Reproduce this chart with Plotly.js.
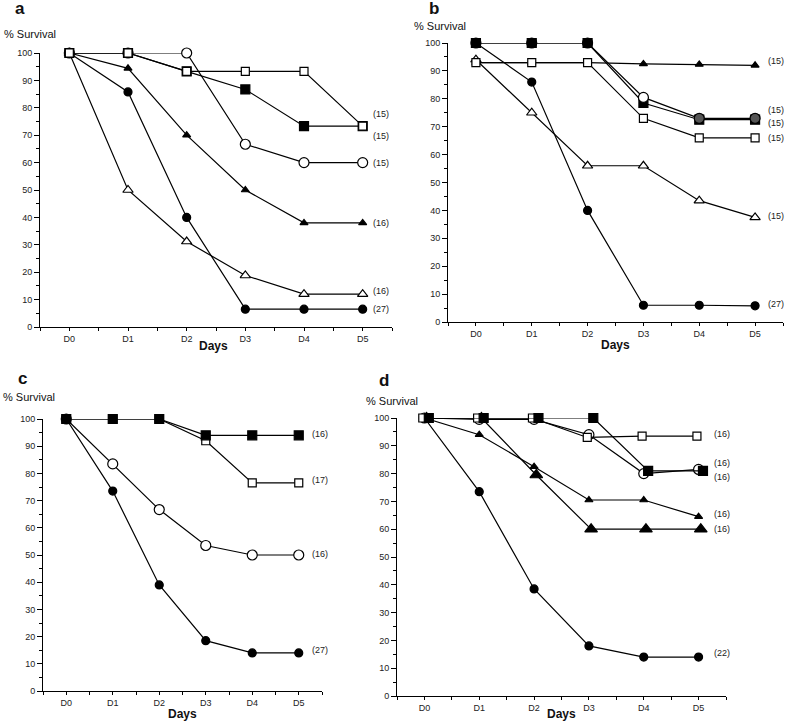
<!DOCTYPE html>
<html><head><meta charset="utf-8">
<script src="https://cdn.plot.ly/plotly-3.0.1.min.js"></script>
<style>html,body{margin:0;padding:0;background:#fff}#chart{width:787px;height:722px}</style>
</head><body><div id="chart"></div>
<script>
// ---------- data ----------
const days = ['D0','D1','D2','D3','D4','D5'];

// Panel a
const aFilledCircle   = [100, 85.8, 40, 6.5, 6.5, 6.5];
const aOpenTriangle   = [100, 50, 31.2, 18.8, 12, 12];
const aFilledTriangle = [100, 94.4, 70, 50, 38, 38];
const aOpenCircle     = [100, 100, 100, 66.7, 60, 60];
const aFilledSquare   = [100, 100, 93.3, 86.7, 73.3, 73.3];
const aOpenSquare     = [100, 100, 93.3, 93.3, 93.3, 73.3];
const aLabels = ['(15)', '(15)', '(15)', '(16)', '(16)', '(27)'];
const aLabelY = [77.6, 69.6, 60, 38, 13, 6.5];

// Panel b
const bFilledTriangle = [93, 93, 93, 92.5, 92.3, 92];
const bOpenSquare     = [93, 93, 93, 73, 66, 66];
const bOpenTriangle   = [94, 75, 56, 56, 43.5, 37.5];
const bOpenCircle     = [100, 100, 100, 80.5, 73, 73];
const bFilledSquare   = [100, 100, 100, 78.5, 72.5, 72.5];
const bFilledCircle   = [100, 86, 40, 6, 6, 5.8];
const bLabels = ['(15)', '(15)', '(15)', '(15)', '(15)', '(27)'];
const bLabelY = [93.5, 76, 71.3, 66, 38, 6.5];

// Panel c
const cFilledSquare = [100, 100, 100, 94, 94, 94];
const cOpenSquare   = [100, 100, 100, 92, 76.5, 76.5];
const cOpenCircle   = [100, 83.5, 66.7, 53.5, 50, 50];
const cFilledCircle = [100, 73.5, 39, 18.5, 14, 14];
const cLabels = ['(16)', '(17)', '(16)', '(27)'];
const cLabelY = [94.5, 77.5, 50.5, 15];

// Panel d
const dOpenSquare     = [100, 100, 100, 93, 93.5, 93.5];
const dFilledSquare   = [100, 100, 100, 100, 81, 81];
const dOpenCircle     = [100, 99.5, 99.5, 94, 80, 81.5];
const dSmallTriangle  = [100, 94, 82.5, 70.5, 70.5, 64.5];
const dLargeTriangle  = [100, 100, 79.5, 60, 60, 60];
const dFilledCircle   = [100, 73.5, 38.5, 18, 14, 14];
const dLabels = ['(16)', '(16)', '(16)', '(16)', '(16)', '(22)'];
const dLabelY = [94.2, 83.8, 78.8, 65.5, 60, 15.5];

// ---------- styles ----------
const W = 787, H = 722;
const FONT = '"Liberation Sans", Arial, sans-serif';
const xs = days.map((d, i) => i);

const ST = {
  fc:  {symbol: 'circle', color: '#000', size: 8},
  oc:  {symbol: 'circle', color: '#fff', size: 10},
  ocB: {symbol: 'circle', color: ['#000', '#000', '#000', '#fff', '#555', '#555'], size: 10},
  fs:  {symbol: 'square', color: '#000', size: 9},
  os:  {symbol: 'square', color: '#fff', size: 8},
  ft:  {symbol: 'triangle-up', color: '#000', size: 7},
  ftL: {symbol: 'triangle-up', color: '#000', size: 11},
  ot:  {symbol: 'triangle-up', color: '#fff', size: 9}
};

function trace(ys, st, ax, dx) {
  return {
    x: xs.map(v => v + (dx || 0)), y: ys, type: 'scatter', mode: 'lines+markers', cliponaxis: false,
    xaxis: 'x' + ax, yaxis: 'y' + ax, hoverinfo: 'skip',
    line: {color: '#000', width: 1.2},
    marker: {symbol: st.symbol, size: st.size, color: st.color, line: {color: '#000', width: 1.2}}
  };
}

// panel pixel boxes: [xLeft, xRight, yBottom(0), yTop(100)]
const boxes = {
  '':  [40, 392, 327, 53],
  '2': [448, 783, 322, 43],
  '3': [43, 322, 691, 419],
  '4': [397, 726, 696, 418]
};

const traces = [
  trace(aFilledCircle, ST.fc, ''), trace(aOpenTriangle, ST.ot, ''), trace(aFilledTriangle, ST.ft, ''),
  trace(aOpenCircle, ST.oc, ''), trace(aFilledSquare, ST.fs, ''), trace(aOpenSquare, ST.os, ''),

  trace(bOpenTriangle, ST.ot, '2'), trace(bFilledTriangle, ST.ft, '2'), trace(bOpenSquare, ST.os, '2'),
  trace(bFilledCircle, ST.fc, '2'), trace(bFilledSquare, ST.fs, '2'), trace(bOpenCircle, ST.ocB, '2'),

  trace(cFilledCircle, ST.fc, '3'), trace(cOpenCircle, ST.oc, '3'), trace(cOpenSquare, ST.os, '3'),
  trace(cFilledSquare, ST.fs, '3'),

  trace(dFilledCircle, ST.fc, '4'), trace(dSmallTriangle, ST.ft, '4'), trace(dLargeTriangle, ST.ftL, '4', 0.04),
  trace(dOpenCircle, ST.oc, '4'), trace(dOpenSquare, ST.os, '4', -0.03), trace(dFilledSquare, ST.fs, '4', 0.08)
];

const layout = {
  width: W, height: H, margin: {l: 0, r: 0, t: 0, b: 0},
  paper_bgcolor: '#fff', plot_bgcolor: '#fff', showlegend: false,
  font: {family: FONT, size: 9, color: '#222'},
  annotations: []
};

function axes(ax, b) {
  const xa = 'xaxis' + ax, ya = 'yaxis' + ax;
  layout[xa] = {
    domain: [b[0] / W, b[1] / W], range: [-0.5, 5.5], anchor: 'y' + ax,
    tickmode: 'array', tickvals: xs, ticktext: days, ticks: 'outside', ticklen: 3,
    minor: {tickmode: 'linear', tick0: 0.5, dtick: 1, ticks: 'outside', ticklen: 3, tickcolor: '#000'},
    showline: true, linecolor: '#000', linewidth: 1, tickcolor: '#000',
    showgrid: false, zeroline: false, fixedrange: true,
    tickfont: {family: FONT, size: 9, color: '#222'}
  };
  layout[ya] = {
    domain: [1 - b[2] / H, 1 - b[3] / H], range: [0, 100], anchor: 'x' + ax,
    tickmode: 'linear', tick0: 0, dtick: 10, ticks: 'outside', ticklen: 5,
    minor: {tickmode: 'linear', tick0: 5, dtick: 10, ticks: 'outside', ticklen: 3, tickcolor: '#000'},
    showline: true, linecolor: '#000', linewidth: 1, tickcolor: '#000',
    showgrid: false, zeroline: false, fixedrange: true,
    tickfont: {family: FONT, size: 9, color: '#222'}
  };
}
Object.keys(boxes).forEach(k => axes(k, boxes[k]));

function labels(ax, texts, ys, shift) {
  texts.forEach((t, i) => layout.annotations.push({
    xref: 'x' + ax, yref: 'y' + ax, x: 5, y: ys[i], text: t, showarrow: false,
    xanchor: 'left', yanchor: 'middle', xshift: shift,
    font: {family: FONT, size: 9, color: '#222'}
  }));
}
labels('', aLabels, aLabelY, 8);
labels('2', bLabels, bLabelY, 11);
labels('3', cLabels, cLabelY, 11);
labels('4', dLabels, dLabelY, 13);

function paperText(text, px, py, size, bold, anchor) {
  layout.annotations.push({
    xref: 'paper', yref: 'paper', x: px / W, y: 1 - py / H, text: bold ? '<b>' + text + '</b>' : text,
    showarrow: false, xanchor: anchor || 'center', yanchor: 'middle',
    font: {family: FONT, size: size, color: '#111'}
  });
}
// panel letters
paperText('a', 20, 9, 17, true);
paperText('b', 434, 8, 17, true);
paperText('c', 22, 378, 17, true);
paperText('d', 384, 380, 17, true);
// y titles
paperText('% Survival', 2, 34, 11, false, 'left');
paperText('% Survival', 412, 26, 11, false, 'left');
paperText('% Survival', 1, 397, 11, false, 'left');
paperText('% Survival', 364, 401, 11, false, 'left');
// x titles
paperText('Days', 213, 346, 12, true);
paperText('Days', 615, 345, 12, true);
paperText('Days', 182, 714, 12, true);
paperText('Days', 561, 714, 12, true);

Plotly.newPlot('chart', traces, layout, {staticPlot: true, displayModeBar: false});
</script>
</body></html>
